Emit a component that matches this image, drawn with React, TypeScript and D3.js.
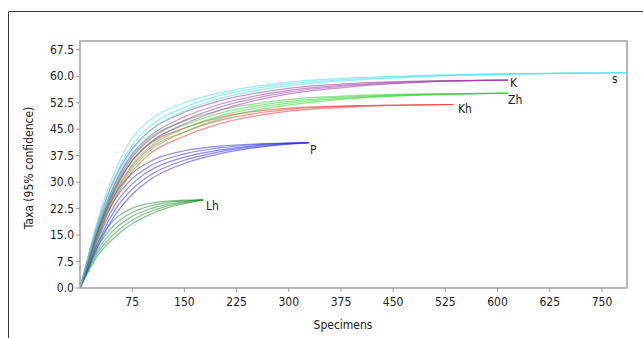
import React from "react";
import * as d3 from "d3";

// x-axis ticks (the original labels the 675 tick as "625")
const xTickValues = [75, 150, 225, 300, 375, 450, 525, 600, 675, 750];
const xTickLabels = ["75", "150", "225", "300", "375", "450", "525", "600", "625", "750"];
const yTickValues = [0, 7.5, 15, 22.5, 30, 37.5, 45, 52.5, 60, 67.5];

// S (cyan)
const sX = [0, 10, 25, 50, 75, 100, 150, 200, 300, 400, 500, 600, 700, 790];
const sCurves = [
  [0, 8, 19, 33, 42.5, 47.5, 52.5, 55.3, 58.3, 59.6, 60.3, 60.7, 60.9, 61],
  [0, 7.5, 18, 31.5, 40.5, 45.8, 51.2, 54.5, 57.8, 59.3, 60.1, 60.6, 60.9, 61],
  [0, 7, 17, 30, 39, 44.5, 50.2, 53.7, 57.3, 59, 60, 60.5, 60.8, 61],
];

// K (purple)
const kX = [0, 10, 25, 50, 75, 100, 150, 200, 300, 400, 500, 615];
const kCurves = [
  [0, 7.5, 18, 31, 39.5, 44.5, 49.8, 53, 56.6, 58.1, 58.7, 58.9],
  [0, 7, 17, 29.5, 38, 43, 48.5, 52, 56, 57.8, 58.6, 58.9],
  [0, 6.5, 16, 28.5, 37, 42, 47.5, 51.2, 55.5, 57.5, 58.5, 58.9],
  [0, 6.3, 15.5, 27.5, 36, 41, 46.5, 50.3, 55, 57.2, 58.4, 58.9],
];

// Zh (green)
const zhX = [0, 10, 25, 50, 75, 100, 150, 200, 300, 400, 500, 615];
const zhCurves = [
  [0, 7, 17, 29.5, 37.5, 42.5, 47.3, 50.3, 53.4, 54.6, 55, 55.2],
  [0, 6.5, 16, 28.2, 36.2, 41.2, 46.2, 49.5, 52.9, 54.3, 54.9, 55.2],
  [0, 6, 15, 27, 35, 40, 45.2, 48.7, 52.4, 54, 54.8, 55.2],
  [0, 5.6, 14, 25.8, 33.8, 38.8, 44.2, 47.9, 51.9, 53.8, 54.7, 55.2],
];

// Kh (red)
const khX = [0, 10, 25, 50, 75, 100, 150, 200, 300, 400, 536];
const khCurves = [
  [0, 6.5, 16, 28, 36, 40.8, 45.3, 48.3, 51, 51.7, 52],
  [0, 6, 15, 26.5, 34.5, 39.5, 44.2, 47.5, 50.6, 51.6, 52],
  [0, 5.5, 14, 25.2, 33, 38, 43, 46.5, 50.1, 51.4, 52],
];

// P (blue)
const pX = [0, 10, 25, 50, 75, 100, 150, 200, 250, 329];
const pCurves = [
  [0, 6.5, 15.5, 26.5, 32.5, 35.8, 38.9, 40.2, 40.8, 41.2],
  [0, 6, 14.5, 25, 31, 34.5, 38, 39.7, 40.6, 41.2],
  [0, 5.5, 13.5, 23.5, 29.5, 33.2, 37.1, 39.1, 40.3, 41.2],
  [0, 5, 12.5, 22, 28, 31.9, 36.2, 38.6, 40, 41.2],
  [0, 4.6, 11.5, 20.5, 26.5, 30.6, 35.3, 38, 39.7, 41.2],
];

// Lh (dark green)
const lhX = [0, 10, 25, 50, 75, 100, 125, 150, 177];
const lhCurves = [
  [0, 5.5, 12.5, 19.5, 22.6, 24, 24.6, 24.9, 25],
  [0, 5, 11.5, 18, 21.4, 23.2, 24.2, 24.7, 25],
  [0, 4.6, 10.6, 16.7, 20.3, 22.4, 23.7, 24.5, 25],
  [0, 4.2, 9.8, 15.5, 19.2, 21.6, 23.2, 24.2, 25],
  [0, 3.9, 9, 14.4, 18.2, 20.8, 22.7, 23.9, 25],
];

const groups = [
  { name: "Lh", xs: lhX, curves: lhCurves, color: "#1f9030", label: "Lh", lx: 206, ly: 210 },
  { name: "P", xs: pX, curves: pCurves, color: "#2a2ae8", label: "P", lx: 310, ly: 154 },
  { name: "Kh", xs: khX, curves: khCurves, color: "#f03030", label: "Kh", lx: 458, ly: 113 },
  { name: "Zh", xs: zhX, curves: zhCurves, color: "#2ed42e", label: "Zh", lx: 508, ly: 104 },
  { name: "K", xs: kX, curves: kCurves, color: "#9a3aa8", label: "K", lx: 510, ly: 87 },
  { name: "S", xs: sX, curves: sCurves, color: "#38e2f0", label: "s", lx: 612, ly: 83 },
];

const W = 643;
const H = 338;
const plot = { left: 80, top: 41, right: 627, bottom: 288 };
const font = "'Liberation Sans Narrow', 'DejaVu Sans Condensed', 'Roboto Condensed', sans-serif";

export default function App() {
  const x = d3.scaleLinear().domain([0, 786]).range([plot.left, plot.right]);
  const y = d3.scaleLinear().domain([0, 70]).range([plot.bottom, plot.top]);

  const line = d3
    .line<[number, number]>()
    .x((d) => x(d[0]))
    .y((d) => y(d[1]))
    .curve(d3.curveMonotoneX);

  return (
    <svg
      width={W}
      height={H}
      style={{ position: "absolute", left: 0, top: 0, background: "#fff", fontFamily: font }}
    >
      {/* outer frame */}
      <path d={`M8.5,${H} V11.5 H${W}`} fill="none" stroke="#3a3a3a" strokeWidth={1} />

      <defs>
        <clipPath id="plotClip">
          <rect x={plot.left} y={plot.top - 5} width={plot.right - plot.left} height={plot.bottom - plot.top + 5} />
        </clipPath>
      </defs>

      {/* curves */}
      <g clipPath="url(#plotClip)">
        {groups.map((g) =>
          g.curves.map((c, i) => (
            <path
              key={`${g.name}-${i}`}
              d={line(g.xs.map((xv, j) => [xv, c[j]] as [number, number])) || ""}
              fill="none"
              stroke={g.color}
              strokeOpacity={0.55}
              strokeWidth={1.2}
            />
          ))
        )}
      </g>

      {/* plot border */}
      <rect
        x={plot.left}
        y={plot.top}
        width={plot.right - plot.left}
        height={plot.bottom - plot.top}
        fill="none"
        stroke="#a0a0a0"
        strokeWidth={1.5}
      />

      {/* y axis */}
      {yTickValues.map((v) => (
        <g key={`y-${v}`}>
          <line x1={plot.left - 4} x2={plot.left} y1={y(v)} y2={y(v)} stroke="#999" />
          <text x={plot.left - 6} y={y(v)} dy="0.35em" textAnchor="end" fontSize={12} fill="#222">
            {v.toFixed(1)}
          </text>
        </g>
      ))}

      {/* x axis */}
      {xTickValues.map((v, i) => (
        <g key={`x-${v}`}>
          <line x1={x(v)} x2={x(v)} y1={plot.bottom} y2={plot.bottom + 4} stroke="#999" />
          <text x={x(v)} y={306} textAnchor="middle" fontSize={12} fill="#222">
            {xTickLabels[i]}
          </text>
        </g>
      ))}

      <text x={343} y={329} textAnchor="middle" fontSize={12} fill="#222">
        Specimens
      </text>
      <text
        transform={`translate(33,168) rotate(-90)`}
        textAnchor="middle"
        fontSize={12}
        fill="#222"
      >
        Taxa (95% confidence)
      </text>

      {/* group labels */}
      {groups.map((g) => (
        <text key={`lab-${g.name}`} x={g.lx} y={g.ly} fontSize={12} fill="#222">
          {g.label}
        </text>
      ))}
    </svg>
  );
}
